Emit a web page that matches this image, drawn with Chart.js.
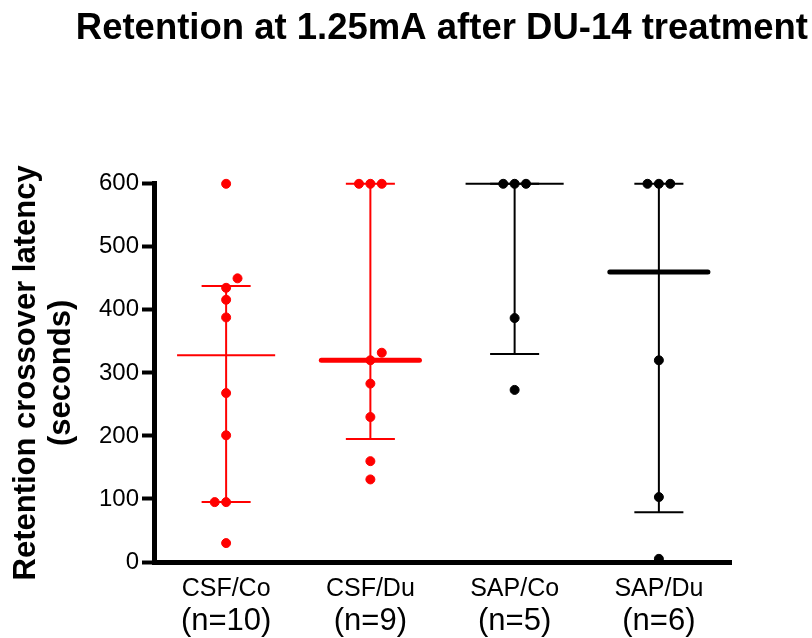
<!DOCTYPE html>
<html>
<head>
<meta charset="utf-8">
<title>Retention at 1.25mA after DU-14 treatment</title>
<script src="https://cdn.jsdelivr.net/npm/chart.js@4/dist/chart.umd.min.js"></script>
<style>
  html, body { margin: 0; padding: 0; background: #fff; }
</style>
</head>
<body>
<canvas id="retentionChart" width="812" height="638"></canvas>
<script>
// values (seconds)
const groups = ["CSF/Co", "CSF/Du", "SAP/Co", "SAP/Du"];
const groupN = ["(n=10)", "(n=9)", "(n=5)", "(n=6)"];
const csfCo = [600, 435, 450, 416, 388, 268, 201, 95, 95, 30];
const csfDu = [600, 600, 600, 320, 332, 283, 230, 160, 131];
const sapCo = [600, 600, 600, 387, 273];
const sapDu = [600, 600, 600, 320, 103, 5];
const medians = [328, 320, 600, 460];
const q1 = [95, 195, 330, 79];
const q3 = [438, 600, 600, 600];
const yTicks = [0, 100, 200, 300, 400, 500, 600];

const groupValues = [csfCo, csfDu, sapCo, sapDu];
const colors = ["#ff0000", "#ff0000", "#000000", "#000000"];
const medianWidth = [2, 5, 2, 5];
const FONT = "'Liberation Sans', Arial, sans-serif";

// spread points that would sit on top of each other
function jitter(values, center) {
  const step = 0.079, near = 16;
  const placed = [];
  values.forEach(v => {
    const hit = placed.find(p => Math.abs(p.y - v) < near && p.k === 0);
    const side = hit && v > hit.y ? 1 : -1;
    let k = 0;
    for (const t of [0, side, -side, 2 * side, -2 * side]) {
      const clash = placed.some(p => Math.abs(p.y - v) < near && p.k === t);
      if (!clash) { k = t; break; }
    }
    placed.push({ k: k, y: v });
  });
  return placed.map(p => ({ x: center + p.k * step, y: p.y }));
}

const datasets = [];
groupValues.forEach((vals, i) => {
  const c = colors[i];
  datasets.push({
    type: "scatter",
    data: jitter(vals, i),
    backgroundColor: c,
    borderColor: c,
    pointRadius: 4.5,
    pointHoverRadius: 4.5,
    order: 0,
    clip: false
  });
  const line = (pts, w) => ({
    type: "line",
    data: pts,
    borderColor: c,
    borderWidth: w,
    pointRadius: 0,
    borderCapStyle: w > 3 ? "round" : "butt",
    fill: false,
    order: 1,
    clip: false
  });
  datasets.push(line([{ x: i, y: q1[i] }, { x: i, y: q3[i] }], 2));
  datasets.push(line([{ x: i - 0.17, y: q1[i] }, { x: i + 0.17, y: q1[i] }], 2));
  datasets.push(line([{ x: i - 0.17, y: q3[i] }, { x: i + 0.17, y: q3[i] }], 2));
  datasets.push(line([{ x: i - 0.34, y: medians[i] }, { x: i + 0.34, y: medians[i] }], medianWidth[i]));
});

const ctx = document.getElementById("retentionChart").getContext("2d");

const retentionChart = new Chart(ctx, {
  type: "scatter",
  data: { datasets: datasets },
  options: {
    responsive: false,
    maintainAspectRatio: false,
    animation: false,
    layout: { padding: { left: 0, right: 4, top: 0, bottom: 0 } },
    plugins: {
      legend: { display: false },
      tooltip: { enabled: false },
      title: {
        display: true,
        text: "Retention at 1.25mA after DU-14 treatment",
        color: "#000",
        font: { family: FONT, size: 36.5, weight: "bold", lineHeight: 1.2 },
        padding: { top: 7, bottom: 133 },
        align: "end"
      }
    },
    scales: {
      x: {
        type: "linear",
        min: -0.5,
        max: 3.5,
        weight: 0,
        afterBuildTicks: scale => {
          scale.ticks = groups.map((g, i) => ({ value: i }));
        },
        afterFit: scale => { scale.height = 40; },
        ticks: {
          color: "#000",
          font: { family: FONT, size: 25 },
          padding: 12,
          maxRotation: 0,
          autoSkip: false,
          callback: (v, idx) => groups[idx]
        },
        grid: { display: false, drawTicks: false },
        border: { display: true, color: "#000", width: 5 }
      },
      xN: {
        type: "linear",
        position: "bottom",
        min: -0.5,
        max: 3.5,
        weight: 1,
        afterBuildTicks: scale => {
          scale.ticks = groupN.map((g, i) => ({ value: i }));
        },
        afterFit: scale => { scale.height = 36; },
        ticks: {
          color: "#000",
          font: { family: FONT, size: 31 },
          padding: 1,
          maxRotation: 0,
          autoSkip: false,
          callback: (v, idx) => groupN[idx]
        },
        grid: { display: false, drawTicks: false },
        border: { display: false }
      },
      y: {
        min: 0,
        max: 600,
        afterBuildTicks: scale => {
          scale.ticks = yTicks.map(v => ({ value: v }));
        },
        afterFit: scale => { scale.width = 154; },
        ticks: {
          color: "#000",
          font: { family: FONT, size: 24 },
          padding: 3
        },
        grid: {
          display: true,
          drawOnChartArea: false,
          drawTicks: true,
          tickLength: 12,
          tickWidth: 4,
          tickColor: "#000"
        },
        border: { display: true, color: "#000", width: 5 },
        title: {
          display: true,
          text: ["Retention crossover latency", "(seconds)"],
          color: "#000",
          font: { family: FONT, size: 31, weight: "bold", lineHeight: 1.13 },
          padding: { top: 9, bottom: 0 }
        }
      },
      yRight: {
        position: "right",
        min: 0,
        max: 600,
        afterFit: scale => { scale.width = 77; },
        ticks: { display: false },
        grid: { display: false, drawTicks: false },
        border: { display: false }
      }
    }
  }
});
</script>
</body>
</html>
